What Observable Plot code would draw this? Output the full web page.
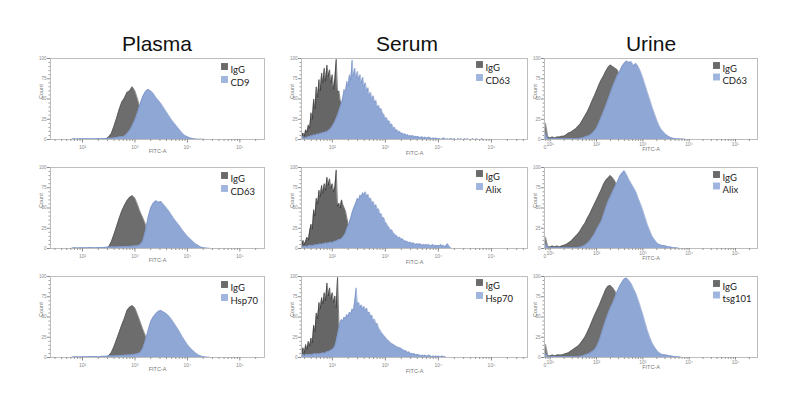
<!DOCTYPE html>
<html><head><meta charset="utf-8">
<script src="https://cdn.jsdelivr.net/npm/d3@7"></script>
<script src="https://cdn.jsdelivr.net/npm/@observablehq/plot@0.6"></script>
<style>
body{margin:0;background:#fff;}
#root{position:relative;width:800px;height:394px;overflow:hidden;background:#fff;font-family:"Liberation Sans",Arial,sans-serif;}
.title{position:absolute;top:33px;font-size:21px;line-height:21px;color:#111;transform:translateX(-50%);white-space:nowrap;}
.panel{position:absolute;}
</style></head><body><div id="root"></div>
<script>
// ---------- DATA ----------
const columns = ["Plasma", "Serum", "Urine"];
const controlLabel = "IgG";
const markerLabels = [["CD9", "CD63", "Hsp70"], ["CD63", "Alix", "Hsp70"], ["CD63", "Alix", "tsg101"]];
// x axis: log10(FITC-A) tick exponents
const xTickExponents = [[2, 3, 4, 5], [2, 3, 4, 5], [1, 2, 3, 4, 5]];
const xDomains = [[1.39, 5.47], [1.42, 5.68], [0.877, 5.475]];
const yTicks = [0, 25, 50, 75, 100];
// histogram bins (log10 FITC-A): first bin and bin width per column
const binStart = [1.80, 1.425, 0.90];
const binWidth = [0.05, 0.025, 0.05];

// Plasma
const plasmaIgG1 = [0,0,0,0,0,0,0,0,0,0,0,0, 0,0.5,3,7,16,26,37,46,51,58,60,65,60,50,38,25,14,7,3,1,0];
const plasmaCD9 = [0.5,0.8,0.5,1,0.8,1,1,0.8,1,1,1.2,1,
  1.2,1.3,1.5,1.5,2,2.5,3,3.5,4,7,11,17,24,33,44,53,59,62,60,57,52,
  48,44,39,34,29,24,20,16,12,8,5,3.5,2,1.2,0.6,0.3,0.3,0.2,0];
const plasmaIgG2 = [0,0,0,0,0,0,0,0,0,0,0,0, 0,0.5,2,8,17,27,37,46,53,59,63,65,62,54,45,38,30,18,9,4,1.5,0.5,0];
const plasmaCD63 = [0.5,1,0.6,1,1,0.8,1,1.2,1,1,1.2,1.3,
  1.3,1.5,1.6,1.8,2,2,2.2,2.3,2.5,2.5,2.6,2.8,3,3.5,4.5,9,21,38,50,56,59,
  57,58,54,50,46,41,36,32,28,23,19,15,12,9,6,4,2,1,0.5,0.2,0];
const plasmaIgG3 = [0,0,0,0,0,0,0,0,0,0,0,0, 0,0.5,2,6,13,22,31,40,48,58,62,64,61,53,44,35,27,18,10,5,2,0.5,0];
const plasmaHsp70 = [0.5,0.8,1,0.7,1,1,0.8,1.2,1,1.2,1,1.3,
  1.4,1.5,1.7,2,2,2.2,2.4,2.5,2.7,3,3.2,3.5,4,4.5,6,11,21,33,44,50,54,
  57,58,56,54,51,47,42,37,32,26,21,16,12,9,6,3.5,2,1,0.5,0.2,0];

// Serum
const serumIgG1 = [3,8,4,12,9,18,14,33,25,50, 38,65,52,74,60,82,70,88,72,92,
  78,86,70,80,62,75,99,58,60,48, 44,35,25,15,8,3,1,0];
const serumCD63 = [2,4,1,3,2,4,3,5,4,6, 5,6,7,6,8,7,9,8,10,9,
  11,12,14,16,19,22,26,30,35,40, 45,52,62,58,72,66,80,74,98,78,
  88,76,84,74,80,70,77,66,70,60, 64,55,58,50,54,46,48,40,42,37,
  38,32,31,26,27,22,23,18,19,14, 15,11,12,9,10,7,8,6,7,5,
  6,4,5,4,5,3,4,3,4,2, 3,3,2,3,2,2,3,2,1,2,
  1,2,1,1,1,0,1,2,1,0, 1,0,1,1,0,1,0,0,1,0,
  1,0,0,1,0,1,0,0,0,1, 0,0,1,0,0,0,1,0,0,0, 0];
const serumIgG2 = [3,10,5,9,14,10,22,30,24,48, 40,62,55,72,64,78,68,80,72,88,
  78,86,74,80,70,76,97,52,56,50, 60,54,50,46,38,30,20,10,4,1,0];
const serumAlix = [1,3,2,3,2,3,4,3,4,3, 5,4,5,5,6,5,6,6,7,6,
  7,7,8,7,8,9,9,10,11,11, 12,14,16,19,24,28,33,38,44,49,
  53,57,62,60,66,64,69,66,70,64, 67,61,62,56,58,52,54,48,49,42,
  43,37,38,32,31,27,26,22,23,19, 18,16,15,13,14,11,12,10,9,9,
  8,7,8,6,7,6,5,6,5,6, 5,4,5,4,5,4,5,3,4,5,
  3,4,3,4,3,5,3,4,2,4, 6,3,1,0];
const serumIgG3 = [4,12,6,16,10,20,14,24,18,40, 32,55,48,68,60,74,66,80,70,92,
  76,86,72,80,68,76,62,99,42,30, 18,10,5,2,0];
const serumHsp70 = [2,4,2,3,4,3,4,3,4,4, 5,4,5,4,5,5,6,5,6,7,
  7,8,9,10,11,14,20,28,36,44, 47,45,50,48,53,51,56,54,60,58,
  70,86,66,68,62,65,60,63,58,61, 55,56,51,52,46,47,41,42,36,34,
  31,29,27,25,23,21,20,18,17,16, 15,14,13,12,12,11,10,9,8,8,
  6,7,5,5,4,5,3,4,3,3, 2,3,2,3,2,2,3,2,1,2, 1,2,1,2,1,1,2,1,1,0];

// Urine
const urineIgG1 = [20,3,2,3,2,3,3,4,4,6, 8,9,11,13,16,19,24,29,34,40,
  47,53,60,67,73,78,84,89,92,90, 88,86,80,70,58,45,32,20,10,4, 1,0];
const urineCD63 = [8,1,1,1,1,1,1,1,1,1, 1,1,1,1,1,1.5,2,3,4,5,
  7,10,14,20,27,34,41,49,57,65, 72,79,84,90,94,97,95,96,91,94,
  90,84,76,67,58,49,40,32,24,17, 12,9,6,4,2.5,1.5,1,0.8,0.5,0.5, 0.3,0];
const urineIgG2 = [14,2,2,3,2,3,2,3,4,5, 7,9,12,15,18,22,27,31,37,42,
  48,54,60,66,72,79,84,87,90,87, 83,76,66,54,42,30,20,12,6,2, 0];
const urineAlix = [6,1,1,1,1,1,1,1,1,1, 1,1,1,1,1.2,1.5,2.5,4,6,9,
  13,17,23,28,33,41,50,58,64,70, 76,82,89,93,96,91,85,80,75,70,
  62,55,47,38,29,22,15,11,7,5, 4,3.5,3,2,2,1,1,0.5,0];
const urineIgG3 = [16,2,2,3,2,3,3,3,4,5, 6,8,10,12,14,17,21,25,31,37,
  44,51,57,63,70,77,84,88,89,86, 82,75,66,54,42,30,20,12,6,2, 0];
const urineTsg101 = [5,1,1,1,1,1,1,1,1,1, 1,1,1,1,1,1.5,2,3,4,5,
  7,9,13,19,28,37,46,54,61,67, 74,82,88,93,97,98,95,91,85,79,
  71,62,53,43,33,25,18,13,9,6, 4,3.5,3,2.5,2,1.5,1,1,0.5,0];

const controlSeries = [[plasmaIgG1, plasmaIgG2, plasmaIgG3], [serumIgG1, serumIgG2, serumIgG3], [urineIgG1, urineIgG2, urineIgG3]];
const markerSeries = [[plasmaCD9, plasmaCD63, plasmaHsp70], [serumCD63, serumAlix, serumHsp70], [urineCD63, urineAlix, urineTsg101]];

// ---------- LAYOUT / STYLE ----------
const colFrames = [[50, 264], [301, 527], [544, 757]];
const rowTops = [58, 167, 276];
const frameH = 81;
const titleCenters = [157, 407, 651];
const grayFill = ["#6d6d6d", "#666666", "#6f6f6f"];
const grayLine = ["#555", "#333333", "#585858"];
const blueFill = "#8fa7d4";
const blueLine = "#7890c6";
const legDx = [-40, -48, -41];
const legDy = [[8, 21], [6, 19], [7, 18.5]];
const fitcDy = [13, 15, 11.5];
const xTickSize = [3.5, 3.5, 2.5];
const xTickPad = [2.5, 2.5, 0.5];
const sup = {"0":"\u2070","1":"\u00b9","2":"\u00b2","3":"\u00b3","4":"\u2074","5":"\u2075","6":"\u2076"};

const root = document.getElementById("root");
columns.forEach((c, i) => {
  const d = document.createElement("div");
  d.className = "title"; d.style.left = titleCenters[i] + "px"; d.textContent = c;
  root.appendChild(d);
});

function series(values, col) {
  return values.map((v, i) => ({x: binStart[col] + i * binWidth[col], y: v}));
}

for (let col = 0; col < 3; col++) {
  for (let row = 0; row < 3; row++) {
    const [x0, x1] = colFrames[col];
    const ml = 16, mr = 1, mt = 1, mb = 22;
    const w = x1 - x0 + ml + mr, h = frameH + mt + mb;
    const dom = xDomains[col];
    const ctrl = series(controlSeries[col][row], col);
    const mk = series(markerSeries[col][row], col);
    const minor = [];
    for (let n = Math.floor(dom[0]); n <= Math.ceil(dom[1]); n++)
      for (let k = 2; k <= 9; k++) { const v = n + Math.log10(k); if (v > dom[0] && v < dom[1]) minor.push(v); }
    const yMinor = d3.range(5, 100, 5).filter(v => !yTicks.includes(v));
    const marks = [
      Plot.areaY(ctrl, {x: "x", y: "y", fill: grayFill[col], curve: "linear"}),
      Plot.lineY(ctrl, {x: "x", y: "y", stroke: grayLine[col], strokeWidth: 0.6}),
      Plot.areaY(mk, {x: "x", y: "y", fill: blueFill, curve: "linear"}),
      Plot.lineY(mk, {x: "x", y: "y", stroke: blueLine, strokeWidth: 0.6}),
      Plot.frame({stroke: "#bdbdbd", strokeWidth: 1}),
      Plot.axisX({ticks: minor, tickSize: 2, tickFormat: () => "", color: "#9a9a9a", label: null}),
      Plot.axisX({ticks: xTickExponents[col], tickSize: xTickSize[col], tickPadding: xTickPad[col], fontSize: 5,
        tickFormat: e => "10" + sup[e], color: "#8a8a8a", label: null}),
      Plot.axisY({ticks: yMinor, tickSize: 1.5, tickFormat: () => "", color: "#9a9a9a", label: null}),
      Plot.axisY({ticks: yTicks, tickSize: 3, tickPadding: 1, fontSize: 4.5, color: "#8a8a8a", label: null}),
      Plot.text(["FITC-A"], {frameAnchor: "bottom", dy: fitcDy[col], text: d => d, fontSize: 5.5, fill: "#7a7a7a"}),
      Plot.text(["Count"], {frameAnchor: "left", dx: -9, rotate: -90, text: d => d, fontSize: 5.5, fill: "#7a7a7a"}),
      Plot.dot([controlLabel], {frameAnchor: "top-right", dx: legDx[col], dy: legDy[col][0], symbol: "square", r: 3.9, fill: "#6a6a6a"}),
      Plot.dot([markerLabels[col][row]], {frameAnchor: "top-right", dx: legDx[col], dy: legDy[col][1], symbol: "square", r: 3.9, fill: "#9fb4de"}),
      Plot.text([controlLabel], {frameAnchor: "top-right", dx: legDx[col] + 6, dy: legDy[col][0], text: d => d, textAnchor: "start", fontSize: 9.5, fill: "#222", fontFamily: "Lato, 'Open Sans', sans-serif"}),
      Plot.text([markerLabels[col][row]], {frameAnchor: "top-right", dx: legDx[col] + 6, dy: legDy[col][1], text: d => d, textAnchor: "start", fontSize: 9.5, fill: "#222", fontFamily: "Lato, 'Open Sans', sans-serif"})
    ];
    if (col === 2) marks.push(Plot.text(["0"], {frameAnchor: "bottom-left", dx: -1, dy: 9.5, text: d => d, fontSize: 5, fill: "#8a8a8a"}));
    const svg = Plot.plot({
      width: w, height: h, marginLeft: ml, marginRight: mr, marginTop: mt, marginBottom: mb,
      x: {domain: dom}, y: {domain: [0, 100]},
      style: {background: "transparent", fontFamily: "'Liberation Sans', Arial, sans-serif", overflow: "visible"},
      marks
    });
    const wrap = document.createElement("div");
    wrap.className = "panel";
    wrap.style.left = (x0 - ml) + "px";
    wrap.style.top = (rowTops[row] - mt) + "px";
    wrap.appendChild(svg);
    root.appendChild(wrap);
  }
}
</script></body></html>
